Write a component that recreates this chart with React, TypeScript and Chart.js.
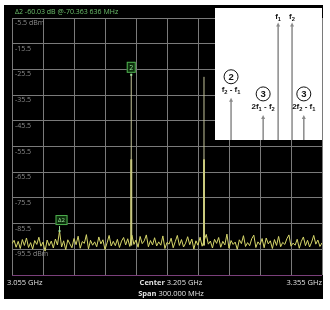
import React, { useEffect, useRef } from 'react';
import { Chart, registerables } from 'chart.js';

Chart.register(...registerables);

// ---------- data ----------
const freqStartMHz = 3055;
const freqStopMHz = 3355;
const freqStepMHz = 2;

const xTicks = [3055, 3085, 3115, 3145, 3175, 3205, 3235, 3265, 3295, 3325, 3355];
const yTicks = [-105.5, -95.5, -85.5, -75.5, -65.5, -55.5, -45.5, -35.5, -25.5, -15.5, -5.5];
const yTickLabels = ['', '-95.5 dBm', '-85.5', '-75.5', '-65.5', '-55.5', '-45.5', '-35.5', '-25.5', '-15.5', '-5.5 dBm'];

// noise floor trace, one value every 2 MHz from 3055 MHz to 3355 MHz
const noiseDbm = [
  -93.3, -92.0, -94.7, -92.4, -95.2, -91.7, -94.0, -91.1, -94.8, -92.9,
  -95.4, -92.1, -93.6, -90.8, -94.3, -92.7, -96.2, -91.9, -94.1, -92.3,
  -95.0, -91.5, -93.8, -88.4, -94.6, -92.2, -95.7, -91.8, -93.4, -94.9,
  -91.3, -93.7, -90.4, -95.1, -92.5, -93.2, -89.8, -95.3, -92.0, -93.9,
  -92.6, -94.5, -90.7, -93.4, -91.8, -95.6, -93.0, -90.1, -94.2, -92.4,
  -94.1, -91.6, -94.8, -92.3, -90.9, -93.8, -91.4, -94.4, -90.0, -93.6,
  -91.9, -94.7, -90.5, -93.3, -92.2, -89.9, -94.5, -92.1, -93.8, -91.0,
  -94.2, -92.6, -93.9, -90.3, -95.2, -92.8, -93.5, -91.2, -94.9, -92.5,
  -90.1, -94.0, -91.7, -94.6, -93.1, -90.6, -93.7, -91.5, -95.4, -92.2,
  -93.9, -90.8, -94.3, -92.0, -89.7, -93.5, -92.3, -95.0, -91.6, -93.2,
  -90.9, -94.7, -92.4, -93.8, -89.6, -95.1, -92.1, -93.6, -92.7, -95.5,
  -91.8, -93.3, -90.2, -94.4, -92.9, -94.1, -91.4, -90.0, -94.8, -92.6,
  -93.7, -91.3, -94.9, -91.1, -93.4, -92.2, -95.2, -91.7, -94.0, -90.5,
  -94.5, -92.8, -93.6, -91.4, -89.9, -94.3, -93.1, -93.9, -91.6, -95.1,
  -92.4, -90.7, -94.1, -92.0, -94.6, -92.7, -90.1, -93.5, -91.9, -94.4, -93.0,
];

const toneFreqsMHz = [3170.4, 3240.8];
const tonePeakDbm = [-27.6, -28.4];
const toneCoreTopDbm = [-60.5, -60.5];
const toneBaseDbm = [-94.0, -94.0];

const markerLabels = ['2', '\u03942'];
const markerFreqsMHz = [3170.4, 3101];
const markerDbm = [-27.6, -88.4];

const headerText = '\u03942 -60.03 dB @-70.363 636 MHz';
const startLabel = '3.055 GHz';
const stopLabel = '3.355 GHz';
const centerLabel = ['Center', ' 3.205 GHz'];
const spanLabel = ['Span', ' 300.000 MHz'];

// inset diagram: order, label ("_n" = subscript n), relative position, relative height
const insetOrders = ['2', '3', '', '', '3'];
const insetLabels = ['f_2 - f_1', '2f_1 - f_2', 'f_1', 'f_2', '2f_2 - f_1'];
const insetArrowPos = [0.15, 0.45, 0.59, 0.72, 0.83];
const insetArrowHeight = [0.32, 0.19, 0.89, 0.89, 0.19];

// ---------- drawing helpers ----------
const FONT = '"Open Sans", "DejaVu Sans", sans-serif';
const INSET_FONT = '"Liberation Sans", Arial, sans-serif';

function drawSubText(ctx: CanvasRenderingContext2D, text: string, cx: number, cy: number, size: number) {
  const parts = text.split(/_(\d)/);
  const segs = parts.map((p, i) => ({ t: p, sub: i % 2 === 1 }));
  const subSize = size * 0.72;
  let total = 0;
  segs.forEach((s) => {
    ctx.font = `bold ${s.sub ? subSize : size}px ${INSET_FONT}`;
    total += ctx.measureText(s.t).width;
  });
  let x = cx - total / 2;
  ctx.textAlign = 'left';
  ctx.textBaseline = 'middle';
  segs.forEach((s) => {
    ctx.font = `bold ${s.sub ? subSize : size}px ${INSET_FONT}`;
    ctx.fillText(s.t, x, s.sub ? cy + size * 0.3 : cy);
    x += ctx.measureText(s.t).width;
  });
}

const decorPlugin = {
  id: 'decor',
  beforeDraw(chart: any) {
    const ctx = chart.ctx as CanvasRenderingContext2D;
    ctx.save();
    ctx.fillStyle = '#ffffff';
    ctx.fillRect(0, 0, chart.width, chart.height);
    ctx.fillStyle = '#000000';
    ctx.fillRect(4, 5, 319, 294);
    ctx.restore();
  },
  afterDraw(chart: any) {
    const ctx = chart.ctx as CanvasRenderingContext2D;
    const area = chart.chartArea;
    const xs = chart.scales.x;
    const ys = chart.scales.y;
    ctx.save();

    // header
    ctx.font = `7px ${FONT}`;
    ctx.fillStyle = '#6cc06c';
    ctx.textBaseline = 'middle';
    ctx.textAlign = 'left';
    ctx.fillText(headerText, area.left + 3, 12);

    // bottom labels
    ctx.fillStyle = '#e0e0e0';
    ctx.font = `7.5px ${FONT}`;
    ctx.textAlign = 'left';
    ctx.fillText(startLabel, 7, area.bottom + 8);
    ctx.textAlign = 'right';
    ctx.fillText(stopLabel, area.right, area.bottom + 8);

    const drawPair = (pair: string[], y: number) => {
      ctx.font = `bold 7.5px ${FONT}`;
      const w1 = ctx.measureText(pair[0]).width;
      ctx.font = `7.5px ${FONT}`;
      const w2 = ctx.measureText(pair[1]).width;
      const cx = (area.left + area.right) / 2 + 4;
      const x0 = cx - (w1 + w2) / 2;
      ctx.textAlign = 'left';
      ctx.font = `bold 7.5px ${FONT}`;
      ctx.fillText(pair[0], x0, y);
      ctx.font = `7.5px ${FONT}`;
      ctx.fillText(pair[1], x0 + w1, y);
    };
    drawPair(centerLabel, area.bottom + 8);
    drawPair(spanLabel, area.bottom + 19);

    // markers
    markerLabels.forEach((lab, i) => {
      const px = xs.getPixelForValue(markerFreqsMHz[i]);
      const py = ys.getPixelForValue(markerDbm[i]);
      const isDelta = lab.length > 1;
      const bw = isDelta ? 12 : 9;
      const bh = isDelta ? 10 : 11;
      const gap = isDelta ? 6 : 2;
      const bx = px - bw / 2 + (isDelta ? 2 : 0);
      const by = py - gap - bh;
      ctx.fillStyle = '#0c2e0c';
      ctx.strokeStyle = '#4fb04f';
      ctx.lineWidth = 1;
      ctx.fillRect(bx, by, bw, bh);
      ctx.strokeRect(bx + 0.5, by + 0.5, bw - 1, bh - 1);
      ctx.fillStyle = '#9be29b';
      ctx.font = `${isDelta ? 6 : 7}px ${FONT}`;
      ctx.textAlign = 'center';
      ctx.textBaseline = 'middle';
      ctx.fillText(lab, bx + bw / 2, by + bh / 2 + 0.5);
      ctx.strokeStyle = '#9be29b';
      ctx.beginPath();
      ctx.moveTo(px, py - gap + 1);
      ctx.lineTo(px, py);
      ctx.stroke();
      ctx.fillStyle = '#9be29b';
      ctx.fillRect(px - 1, py - 1, 2, 2);
    });

    // inset
    const ix = 215, iy = 8, iw = 107, ih = 132;
    ctx.fillStyle = '#ffffff';
    ctx.fillRect(ix, iy, iw, ih);
    const baseY = iy + ih;
    insetArrowPos.forEach((p, i) => {
      const ax = ix + p * iw;
      const top = baseY - insetArrowHeight[i] * ih;
      ctx.strokeStyle = '#8a8a8a';
      ctx.fillStyle = '#8a8a8a';
      ctx.lineWidth = 1.5;
      ctx.beginPath();
      ctx.moveTo(ax, baseY);
      ctx.lineTo(ax, top + 3);
      ctx.stroke();
      ctx.beginPath();
      ctx.moveTo(ax, top);
      ctx.lineTo(ax - 2, top + 4);
      ctx.lineTo(ax + 2, top + 4);
      ctx.closePath();
      ctx.fill();

      ctx.fillStyle = '#111111';
      drawSubText(ctx, insetLabels[i], ax, insetOrders[i] ? top - 8 : top - 6, 8);
      if (insetOrders[i]) {
        const cy = top - 21;
        ctx.strokeStyle = '#111111';
        ctx.lineWidth = 1;
        ctx.beginPath();
        ctx.arc(ax, cy, 7, 0, Math.PI * 2);
        ctx.stroke();
        ctx.font = `bold 9.5px ${INSET_FONT}`;
        ctx.textAlign = 'center';
        ctx.textBaseline = 'middle';
        ctx.fillText(insetOrders[i], ax, cy + 0.5);
      }
    });

    ctx.restore();
  },
};

export default function App() {
  const ref = useRef<HTMLCanvasElement | null>(null);

  useEffect(() => {
    document.body.style.margin = '0';
    const canvas = ref.current;
    if (!canvas) return;

    const noiseData = noiseDbm.map((v, i) => ({ x: freqStartMHz + i * freqStepMHz, y: v }));

    const toneSets: any[] = [];
    toneFreqsMHz.forEach((f, i) => {
      toneSets.push({
        data: [{ x: f, y: toneBaseDbm[i] }, { x: f, y: tonePeakDbm[i] }],
        borderColor: '#c4c49a',
        borderWidth: 1,
        pointRadius: 0,
      });
      toneSets.push({
        data: [{ x: f, y: toneBaseDbm[i] }, { x: f, y: toneCoreTopDbm[i] }],
        borderColor: '#cfcf62',
        borderWidth: 2,
        pointRadius: 0,
      });
    });

    const chart = new Chart(canvas, {
      type: 'line',
      data: {
        datasets: [
          {
            data: noiseData,
            borderColor: '#d6d66a',
            borderWidth: 1,
            pointRadius: 0,
            tension: 0,
          },
          ...toneSets,
        ],
      },
      options: {
        animation: false,
        responsive: true,
        maintainAspectRatio: false,
        layout: { padding: { left: 12, right: 8, top: 18, bottom: 35 } },
        plugins: {
          legend: { display: false },
          tooltip: { enabled: false },
        },
        scales: {
          x: {
            type: 'linear',
            min: freqStartMHz,
            max: freqStopMHz,
            afterBuildTicks: (s: any) => {
              s.ticks = xTicks.map((v) => ({ value: v }));
            },
            afterFit: (s: any) => {
              s.height = 0;
            },
            ticks: { display: false },
            grid: { color: '#7a7a7a', lineWidth: 1, drawTicks: false },
            border: { display: false },
          },
          y: {
            type: 'linear',
            min: yTicks[0],
            max: yTicks[yTicks.length - 1],
            afterBuildTicks: (s: any) => {
              s.ticks = yTicks.map((v) => ({ value: v }));
            },
            afterFit: (s: any) => {
              s.width = 0;
            },
            ticks: {
              mirror: true,
              padding: 3,
              labelOffset: 5,
              color: '#8c8c8c',
              font: { size: 7, family: FONT },
              callback: (_v: any, i: number) => yTickLabels[i],
            },
            grid: {
              color: (c: any) => (c.tick && c.tick.value === yTicks[0] ? '#7a3f7a' : '#7a7a7a'),
              lineWidth: 1,
              drawTicks: false,
            },
            border: { display: false },
          },
        },
      } as any,
      plugins: [decorPlugin],
    });

    return () => chart.destroy();
  }, []);

  return (
    <div style={{ position: 'fixed', left: 0, top: 0, width: 330, height: 310 }}>
      <canvas ref={ref} />
    </div>
  );
}
